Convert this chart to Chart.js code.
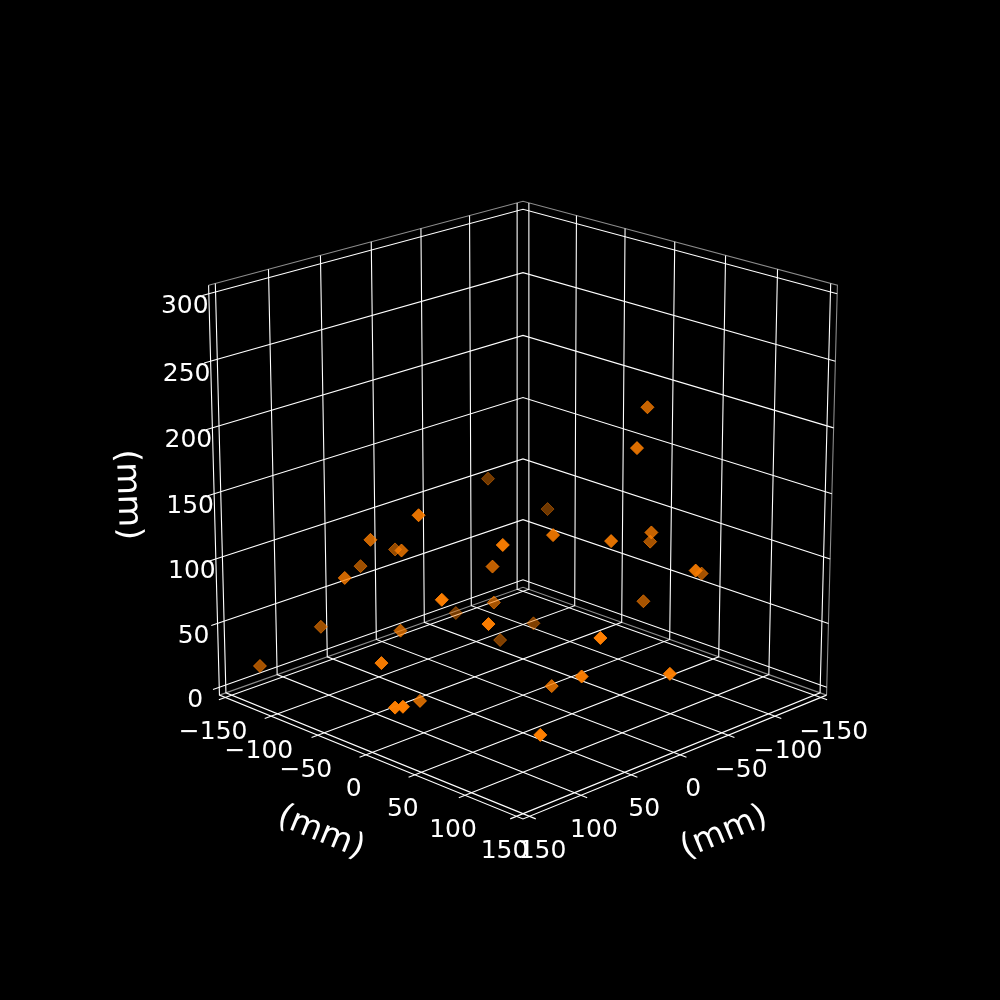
<!DOCTYPE html>
<html>
<head>
<meta charset="utf-8">
<script src="https://cdn.jsdelivr.net/npm/chart.js@4"></script>
<style>html,body{margin:0;background:#000}canvas{display:block}</style>
</head>
<body>
<canvas id="chart" width="1000" height="1000"></canvas>
<script>
// marker positions in mm
const xValues = [-79,-42,-73,-104,86,17,-11,-60,-93,62,89,22,70,53,108,19,-43,-114,109,-2,-79,-32,84,90,-58,69,-38,43,142,129,5,45,22,91,150,150,88];
const yValues = [47,72,-110,-78,-18,47,77,70,38,42,-65,-111,-53,-115,-72,-12,129,70,29,-32,45,-103,-125,56,-47,-56,-62,119,2,-142,150,103,51,-13,32,24,105];
const zValues = [208,192,116,92,151,135,131,123,99,138,121,84,111,78,95,96,114,77,106,57,58,21,36,90,21,48,9,84,60,13,55,51,22,12,38,35,20];
const tickValues = [-150,-100,-50,0,50,100,150];
const zTicks = [0,50,100,150,200,250,300];
const axisTitle = '(mm)';

// axis box limits
const lim = 156.25, zLow = -6.25, zHigh = 306.25;

// camera, same idea as a matplotlib 3d view
const elev = 19.5*Math.PI/180, D = 18.9, K = 4128, cx = 523, cy = 493.8, zf = .995;
const s = Math.sin(elev), c = Math.cos(elev);

function project(x, y, z) {
    const nx = x/lim, ny = y/lim, nz = (z-150)/156.25*zf;
    const t = (nx+ny)/Math.SQRT2, R = (ny-nx)/Math.SQRT2;
    const f = c*t + s*nz, U = -s*t + c*nz;
    return {x: cx + K*R/(D-f), y: cy - K*U/(D-f), depth: f};
}

function seg(points, color) {
    return {type: 'scatter', showLine: true, pointRadius: 0, borderColor: color, borderWidth: 1.1, clip: false,
        data: points.map(p => { const q = project(p[0], p[1], p[2]); return {x: q.x, y: q.y}; })};
}

const depths = xValues.map((v, i) => project(v, yValues[i], zValues[i]).depth);
const dMin = Math.min(...depths), dMax = Math.max(...depths);
const shade = d => `rgba(255,127,0,${.43 + .57*(d-dMin)/(dMax-dMin)})`;
const order = xValues.map((_, i) => i).sort((a, b) => depths[a]-depths[b]); // far ones first

const datasets = [];
datasets.push({type: 'scatter', clip: false, pointStyle: 'rectRot', pointRadius: 6.5, borderWidth: 1,
    data: order.map(i => { const q = project(xValues[i], yValues[i], zValues[i]); return {x: q.x, y: q.y}; }),
    pointBackgroundColor: order.map(i => shade(depths[i])),
    pointBorderColor: order.map(i => shade(depths[i]))});

const gray = 'rgba(255,255,255,.55)', white = '#fff';
tickValues.forEach(v => {
    datasets.push(seg([[v,lim+6,zLow],[v,-lim,zLow],[v,-lim,zHigh]], white));
    datasets.push(seg([[lim+6,v,zLow],[-lim,v,zLow],[-lim,v,zHigh]], white));
});
zTicks.forEach(v => datasets.push(seg([[lim+6,-lim,v],[-lim,-lim,v],[-lim,lim,v]], white)));
datasets.push(seg([[lim,-lim,zHigh],[-lim,-lim,zHigh],[-lim,lim,zHigh],[-lim,lim,zLow]], gray));
datasets.push(seg([[lim,-lim,zLow],[-lim,-lim,zLow],[-lim,lim,zLow]], gray));
datasets.push(seg([[lim,-lim,zHigh],[lim,-lim,zLow],[lim,lim,zLow],[-lim,lim,zLow]], white));

const labelsPlugin = {id: 'labels3d', afterDraw(chart) {
    const ctx = chart.ctx, sx = chart.scales.x, sy = chart.scales.y;
    const put = (p, dx, dy, text, size, rot) => {
        ctx.save();
        ctx.translate(sx.getPixelForValue(p.x)+dx, sy.getPixelForValue(p.y)+dy);
        ctx.rotate((rot||0)*Math.PI/180);
        ctx.fillStyle = '#fff';
        ctx.font = size + 'px "DejaVu Sans"';
        ctx.textAlign = 'center';
        ctx.textBaseline = 'middle';
        ctx.fillText(text, 0, 0);
        ctx.restore();
    };
    const fmt = v => String(v).replace('-', '\u2212');
    tickValues.forEach(v => {
        put(project(v,lim,zLow), 13, 35, fmt(v), 25);
        put(project(lim,v,zLow), -12, 35, fmt(v), 25);
    });
    zTicks.forEach(v => put(project(lim,-lim,v), -24, 13, fmt(v), 25));
    put(project(0,lim,zLow), 44, 78, axisTitle, 33.3, -22.4);
    put(project(lim,0,zLow), -45, 78, axisTitle, 33.3, 22.4);
    put(project(lim,-lim,150), -87, 1, axisTitle, 33.3, 88);
}};

new Chart(document.getElementById('chart'), {
    data: {datasets},
    options: {responsive: false, animation: false, events: [],
        layout: {padding: 0, autoPadding: false},
        plugins: {legend: {display: false}, tooltip: {enabled: false}},
        scales: {x: {type: 'linear', display: false, min: 0, max: 1000},
                 y: {type: 'linear', display: false, min: 0, max: 1000, reverse: true}}},
    plugins: [{id: 'bg', beforeDraw(ch) { ch.ctx.fillStyle = '#000'; ch.ctx.fillRect(0, 0, 1000, 1000); }}, labelsPlugin]
});
</script>
</body>
</html>
